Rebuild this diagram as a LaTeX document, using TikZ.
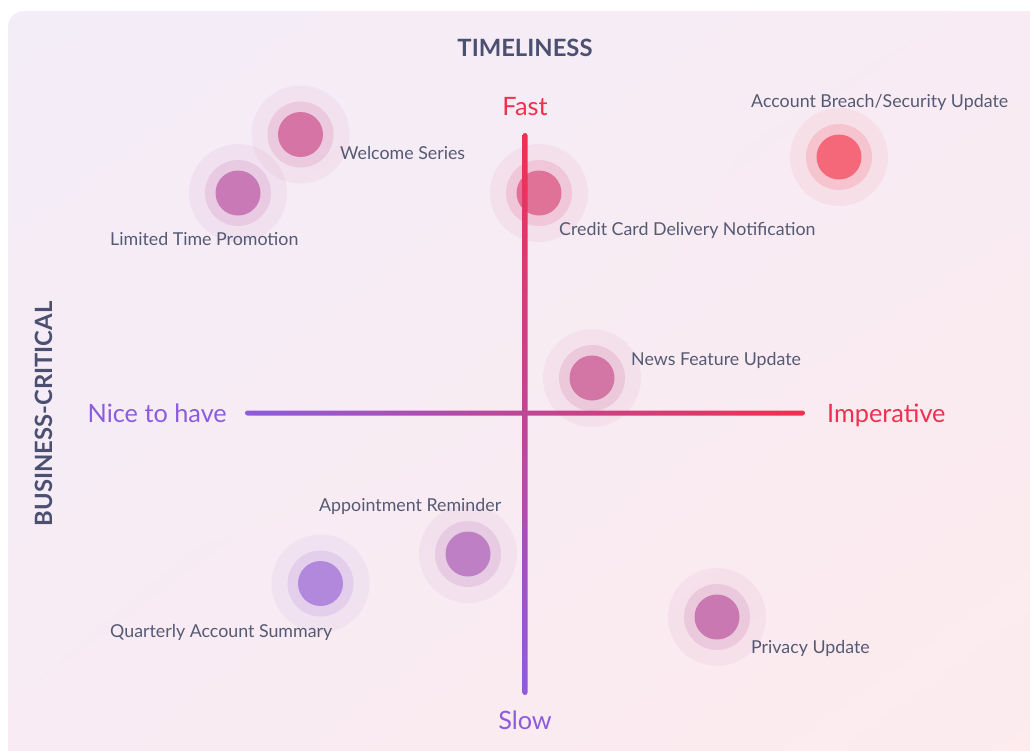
\documentclass[tikz,border=0pt]{standalone}
\usepackage{fontspec}
\setmainfont{Lato}
\usetikzlibrary{positioning,shadings}
\definecolor{inkgray}{HTML}{555A74}
\definecolor{titlegray}{HTML}{4B5070}
\definecolor{fastred}{HTML}{F0304F}
\definecolor{slowviolet}{HTML}{8D5CDD}
\definecolor{bgtl}{HTML}{F3EDF8}
\definecolor{bgtr}{HTML}{F8EBF3}
\definecolor{bgbl}{HTML}{F8EBF3}
\definecolor{bgbr}{HTML}{FDEBED}
\definecolor{cBreach}{HTML}{F4687A}
\definecolor{cCredit}{HTML}{DF7296}
\definecolor{cWelcome}{HTML}{D674A6}
\definecolor{cLimited}{HTML}{C979B5}
\definecolor{cNews}{HTML}{D476A5}
\definecolor{cAppoint}{HTML}{BE7FC4}
\definecolor{cQuarter}{HTML}{B288DD}
\definecolor{cPrivacy}{HTML}{C978B2}
\newcommand{\msgnode}[4]{
  \fill[#4, opacity=0.09] (#2,#3) circle (49pt);
  \fill[#4, opacity=0.22] (#2,#3) circle (33pt);
  \node[dot, fill=#4] (#1) at (#2,#3) {};
}
\tikzset{
  dot/.style    = {circle, minimum size=45pt, inner sep=0pt},
  msglabel/.style = {text=inkgray, inner sep=0pt, font=\fontsize{17.8}{20}\selectfont},
  axislabel/.style = {inner sep=0pt, font=\fontsize{25.3}{28}\selectfont},
  heading/.style = {text=titlegray, inner sep=0pt, font=\fontsize{23.8}{26}\selectfont\bfseries}
}

\begin{document}
\begin{tikzpicture}[x=1pt, y=-1pt]
	\useasboundingbox (0,0) rectangle (1030,750);
	\fill[white] (0,0) rectangle (1030,750);
	\shade[upper left=bgtl, upper right=bgtr, lower left=bgbl, lower right=bgbr, rounded corners=16pt]
		(8,11) rectangle (1060,780);

	\msgnode{welcome}{300.5}{134.5}{cWelcome}
	\msgnode{limited}{238}{193}{cLimited}
	\msgnode{credit}{539}{193}{cCredit}
	\msgnode{breach}{839}{157}{cBreach}
	\msgnode{news}{592}{378}{cNews}
	\msgnode{appoint}{468}{554}{cAppoint}
	\msgnode{quarter}{320.5}{583.5}{cQuarter}
	\msgnode{privacy}{717}{617}{cPrivacy}

	% axes
	\coordinate (top) at (525,133);
	\coordinate (bottom) at (525,695);
	\coordinate (left) at (245,413);
	\coordinate (right) at (805,413);
	\shade[top color=fastred, bottom color=slowviolet, rounded corners=2.5pt]
		([xshift=-2.5pt]top) rectangle ([xshift=2.5pt]bottom);
	\shade[left color=slowviolet, right color=fastred, rounded corners=2.5pt]
		([yshift=2.5pt]left) rectangle ([yshift=-2.5pt]right);

	\node[axislabel, text=fastred, anchor=base] (fast) at (525,115) {Fast};
	\node[axislabel, text=slowviolet, anchor=base] (slow) at (525,729) {Slow};
	\node[axislabel, text=slowviolet, anchor=base east] (nice) at (227,422) {Nice to have};
	\node[axislabel, text=fastred, anchor=base west] (imperative) at (827,422) {Imperative};

	\node[heading, anchor=base] (timeliness) at (525,56) {TIMELINESS};
	\node[heading, anchor=base, rotate=90] (critical) at (52,414) {BUSINESS-CRITICAL};

	\node[msglabel, anchor=base west] (welcomelbl) at (340,159) {Welcome Series};
	\node[msglabel, anchor=base west] (limitedlbl) at (110,245) {Limited Time Promotion};
	\node[msglabel, anchor=base west] (creditlbl) at (559,235) {Credit Card Delivery Notification};
	\node[msglabel, anchor=base west] (breachlbl) at (751,107) {Account Breach/Security Update};
	\node[msglabel, anchor=base west] (newslbl) at (631,365) {News Feature Update};
	\node[msglabel, anchor=base west] (appointlbl) at (319,511) {Appointment Reminder};
	\node[msglabel, anchor=base west] (quarterlbl) at (110,637) {Quarterly Account Summary};
	\node[msglabel, anchor=base west] (privacylbl) at (751,653) {Privacy Update};
\end{tikzpicture}
\end{document}
